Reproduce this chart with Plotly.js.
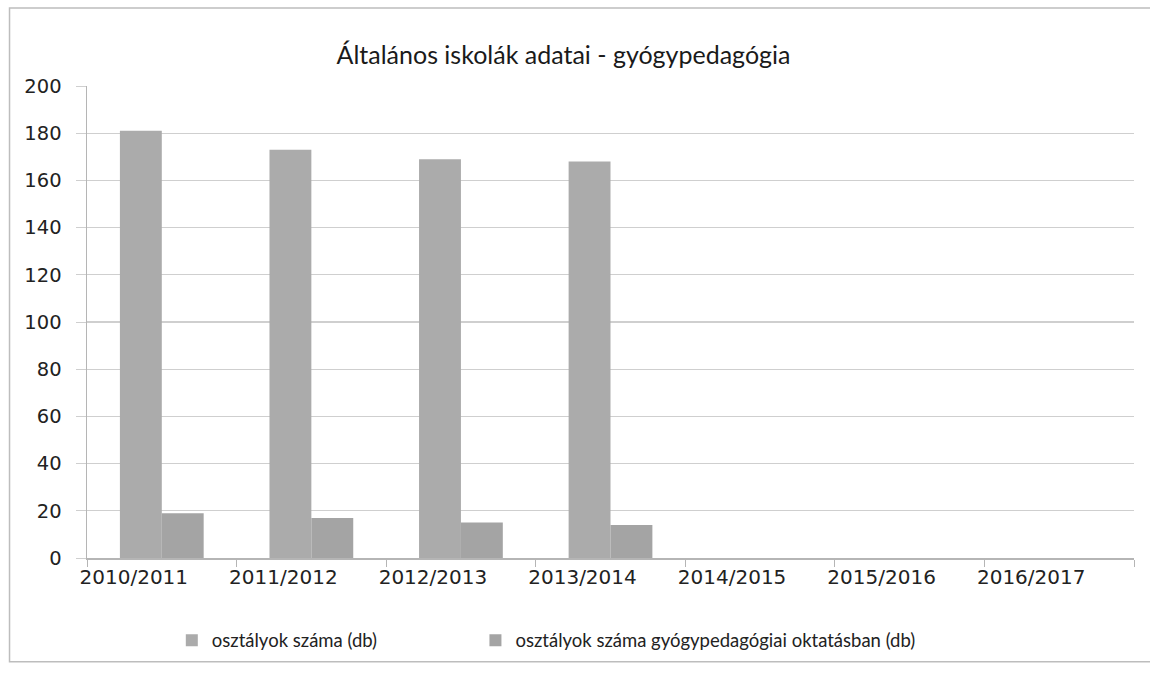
<!DOCTYPE html>
<html>
<head>
<meta charset="utf-8">
<script src="https://cdn.plot.ly/plotly-3.0.1.min.js"></script>
<style>html,body{margin:0;padding:0;background:#fff;}#chart{width:1150px;height:676px;}</style>
</head>
<body>
<div id="chart"></div>
<script>
const categories = ["2010/2011","2011/2012","2012/2013","2013/2014","2014/2015","2015/2016","2016/2017"];
const osztalyokSzama = [181, 173, 169, 168, null, null, null];
const osztalyokGyogyped = [19, 17, 15, 14, null, null, null];
const seriesNames = ["osztályok száma (db)", "osztályok száma gyógypedagógiai oktatásban (db)"];
const yTicks = [0,20,40,60,80,100,120,140,160,180,200];

const traces = [
  {type:'bar', x:categories, y:osztalyokSzama, name:seriesNames[0],
   marker:{color:'#ababab'}, legend:'legend'},
  {type:'bar', x:categories, y:osztalyokGyogyped, name:seriesNames[1],
   marker:{color:'#a4a4a4'}, legend:'legend2'}
];

const legendFont = {family:'Lato, "Open Sans", sans-serif', size:18.5, color:'#222'};

const layout = {
  width:1150, height:676,
  paper_bgcolor:'#ffffff', plot_bgcolor:'#ffffff',
  margin:{l:87, r:16, t:86, b:118},
  title:{text:'Általános iskolák adatai - gyógypedagógia', x:0.49, xanchor:'center', y:0.918, yanchor:'middle',
         font:{family:'Lato, "Open Sans", sans-serif', size:25, color:'#1a1a1a'}},
  barmode:'group', bargap:0.44, bargroupgap:0,
  xaxis:{type:'category', showgrid:false, showline:true, linecolor:'#b5b5b5', linewidth:1.5,
         ticks:'outside', tickson:'boundaries', ticklen:7, tickcolor:'#b5b5b5',
         ticklabelshift:-28,
         tickfont:{family:'"DejaVu Sans", sans-serif', size:20, color:'#222'}},
  yaxis:{range:[0,200], tickvals:yTicks, showgrid:true, gridcolor:'#cfcfcf', gridwidth:1.2,
         showline:true, linecolor:'#b5b5b5', linewidth:1.5, zeroline:false,
         ticks:'outside', ticklen:10, tickcolor:'#cfcfcf', ticklabelstandoff:10,
         tickfont:{family:'"DejaVu Sans", sans-serif', size:19.5, color:'#222'}},
  legend:{orientation:'h', x:0.081, xanchor:'left', y:-0.175, yanchor:'middle',
          itemwidth:30, font:legendFont, bgcolor:'rgba(0,0,0,0)'},
  legend2:{orientation:'h', x:0.371, xanchor:'left', y:-0.175, yanchor:'middle',
          itemwidth:30, font:legendFont, bgcolor:'rgba(0,0,0,0)'},
  shapes:[{type:'rect', xref:'paper', yref:'paper', x0:-0.074, x1:1.02, y0:-0.22, y1:1.165,
           line:{color:'#bdbdbd', width:1.5}, layer:'below'}],
  showlegend:true
};

Plotly.newPlot('chart', traces, layout, {displayModeBar:false, staticPlot:true});
</script>
</body>
</html>
